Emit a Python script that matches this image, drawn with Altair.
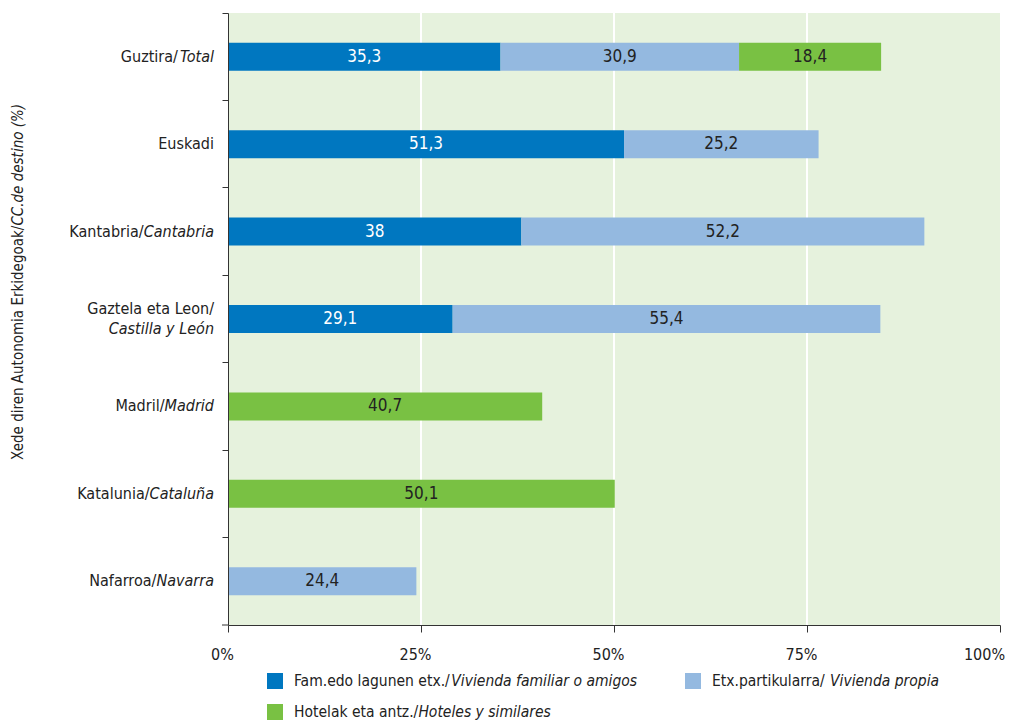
import altair as alt
import pandas as pd

FONT = "DejaVu Sans Condensed"

# ---------------- data ----------------
categories = ["Guztira/Total", "Euskadi", "Kantabria/Cantabria",
              "Gaztela eta Leon/Castilla y León", "Madril/Madrid",
              "Katalunia/Cataluña", "Nafarroa/Navarra"]
label_normal = ["Guztira/", "Euskadi", "Kantabria/", "Gaztela eta Leon/",
                "Madril/", "Katalunia/", "Nafarroa/"]
label_italic = ["Total", "", "Cantabria", "Castilla y León", "Madrid",
                "Cataluña", "Navarra"]
two_line = [False, False, False, True, False, False, False]

series = ["Fam.edo lagunen etx./Vivienda familiar o amigos",
          "Etx.partikularra/ Vivienda propia",
          "Hotelak eta antz./Hoteles y similares"]
series_normal = ["Fam.edo lagunen etx./", "Etx.partikularra/ ", "Hotelak eta antz./"]
series_italic = ["Vivienda familiar o amigos", "Vivienda propia", "Hoteles y similares"]
colors = ["#0077c0", "#94b9e0", "#79c143"]

familiar = [35.3, 51.3, 38.0, 29.1, None, None, None]
propia = [30.9, 25.2, 52.2, 55.4, None, None, 24.4]
hoteles = [18.4, None, None, None, 40.7, 50.1, None]

x_ticks = [0, 25, 50, 75, 100]
grid_values = [25, 50, 75]

title_normal = "Xede diren Autonomia Erkidegoak/"
title_italic = "CC.de destino (%)"

# ---------------- layout ----------------
W, H = 772, 612
TXT = "#222222"
AX = "#333333"
FS = 16
FS_LEG = 15.5
FS_TITLE = 15

# DejaVu Sans advance widths (per 1000 em); condensed ~ 0.9
_w = {" ": 318, "(": 390, ")": 390, "%": 950, ".": 318, "/": 337, ",": 318,
      "A": 684, "C": 698, "E": 632, "F": 575, "G": 775, "H": 752, "K": 656,
      "L": 557, "M": 863, "N": 748, "T": 611, "V": 684, "X": 685,
      "a": 613, "b": 635, "c": 550, "d": 635, "e": 615, "f": 352, "g": 635,
      "h": 634, "i": 278, "j": 278, "k": 579, "l": 278, "m": 974, "n": 634,
      "o": 612, "p": 635, "r": 411, "s": 521, "t": 392, "u": 634, "v": 592,
      "x": 592, "y": 592, "z": 525, "ñ": 634, "ó": 612}


def text_width(s, size=FS):
    return sum(_w.get(c, 600) for c in s) * 0.9 * size / 1000.0


# ---------------- bar table ----------------
rows = []
for i, cat in enumerate(categories):
    for k, vals in enumerate([familiar, propia, hoteles]):
        v = vals[i]
        if v is None:
            continue
        rows.append({"cat": cat, "series": series[k], "order": k, "value": v,
                     "label": f"{v:g}".replace(".", ",")})
bars_df = pd.DataFrame(rows)

yscale = alt.Scale(domain=categories, paddingInner=0, paddingOuter=0)
xscale = alt.Scale(domain=[0, 100], nice=False)

xaxis = alt.Axis(values=x_ticks, labelExpr="datum.value + '%'",
                 grid=False, tickSize=7, labelFontSize=FS,
                 labelFont=FONT, labelColor=TXT, labelPadding=14,
                 labelOffset={"condition": {"test": "datum.value == 100", "value": -16},
                              "value": -6},
                 labelFlush=False, title=None,
                 domainColor=AX, tickColor=AX, zindex=1)
yaxis = alt.Axis(labels=False, title=None, ticks=True, tickSize=6,
                 bandPosition=0, domainColor=AX, tickColor=AX,
                 grid=False, zindex=1)

base = (alt.Chart(bars_df)
        .transform_stack(stack="value", groupby=["cat"],
                         sort=[alt.SortField("order")], as_=["x0", "x1"])
        .transform_calculate(mid="(datum.x0 + datum.x1) / 2"))

grid = alt.Chart(pd.DataFrame({"g": grid_values})).mark_rule(
    color="white", strokeWidth=2).encode(
    x=alt.X("g:Q", scale=xscale, axis=xaxis))

bars = base.mark_bar(size=28).encode(
    x=alt.X("x0:Q", scale=xscale, axis=xaxis),
    x2="x1:Q",
    y=alt.Y("cat:N", scale=yscale, axis=yaxis),
    color=alt.Color("series:N", scale=alt.Scale(domain=series, range=colors),
                    legend=None),
)

values_txt = base.mark_text(font=FONT, fontSize=17).encode(
    x=alt.X("mid:Q", scale=xscale, axis=xaxis),
    y=alt.Y("cat:N", scale=yscale, axis=yaxis),
    text="label:N",
    color=alt.condition("datum.order == 0", alt.value("white"), alt.value(TXT)),
)

layers = [grid, bars, values_txt]

# ---------------- category labels (mixed italic) ----------------
RIGHT = -14
for i, cat in enumerate(categories):
    d = pd.DataFrame({"cat": [cat], "n": [label_normal[i]], "it": [label_italic[i]]})
    ych = alt.Y("cat:N", scale=yscale, axis=yaxis)
    if two_line[i]:
        layers.append(alt.Chart(d).mark_text(font=FONT, fontSize=FS, color=TXT,
                                             align="right", dy=-10).encode(
            y=ych, x=alt.value(RIGHT), text="n:N"))
        layers.append(alt.Chart(d).mark_text(font=FONT, fontSize=FS, color=TXT,
                                             fontStyle="italic", align="right",
                                             dy=10).encode(
            y=ych, x=alt.value(RIGHT), text="it:N"))
    else:
        wi = text_width(label_italic[i])
        layers.append(alt.Chart(d).mark_text(font=FONT, fontSize=FS, color=TXT,
                                             align="right").encode(
            y=ych, x=alt.value(RIGHT - wi), text="n:N"))
        if label_italic[i]:
            layers.append(alt.Chart(d).mark_text(font=FONT, fontSize=FS, color=TXT,
                                                 fontStyle="italic",
                                                 align="right").encode(
                y=ych, x=alt.value(RIGHT), text="it:N"))

# ---------------- rotated y title (mixed italic) ----------------
title_bottom = 448
title_anchor = title_bottom - text_width(title_normal, FS_TITLE)
td = pd.DataFrame({"n": [title_normal], "it": [title_italic]})
layers.append(alt.Chart(td).mark_text(font=FONT, fontSize=FS_TITLE, color=TXT,
                                      angle=270, align="right",
                                      baseline="middle").encode(
    x=alt.value(-210), y=alt.value(title_anchor), text="n:N"))
layers.append(alt.Chart(td).mark_text(font=FONT, fontSize=FS_TITLE, color=TXT,
                                      angle=270, align="left", baseline="middle",
                                      fontStyle="italic").encode(
    x=alt.value(-210), y=alt.value(title_anchor), text="it:N"))

# ---------------- legend (mixed italic) ----------------
legend_slots = [(39, 668), (457, 668), (39, 699)]
for k in range(len(series)):
    sx, sy = legend_slots[k]
    d = pd.DataFrame({"s": [series[k]], "n": [series_normal[k]], "it": [series_italic[k]]})
    layers.append(alt.Chart(d).mark_rect(color=colors[k]).encode(
        x=alt.value(sx), x2=alt.value(sx + 16),
        y=alt.value(sy - 8), y2=alt.value(sy + 8)))
    tx = sx + 27
    layers.append(alt.Chart(d).mark_text(font=FONT, fontSize=FS_LEG, color=TXT,
                                         align="left", baseline="middle").encode(
        x=alt.value(tx), y=alt.value(sy), text="n:N"))
    layers.append(alt.Chart(d).mark_text(font=FONT, fontSize=FS_LEG, color=TXT,
                                         align="left", baseline="middle",
                                         fontStyle="italic").encode(
        x=alt.value(tx + text_width(series_normal[k], FS_LEG)), y=alt.value(sy),
        text="it:N"))

# bottom-most category tick
layers.append(alt.Chart(pd.DataFrame({"a": [0]})).mark_rule(color=AX).encode(
    x=alt.value(-6), x2=alt.value(0), y=alt.value(H)))

chart = (alt.layer(*layers)
         .properties(width=W, height=H,
                     autosize=alt.AutoSizeParams(type="none"),
                     padding={"left": 220, "top": 5, "right": 6, "bottom": 97},
                     background="white")
         .configure_view(fill="#e6f2dd", stroke=None))

chart.save("out.html", embed_options={"renderer": "svg", "actions": False})
